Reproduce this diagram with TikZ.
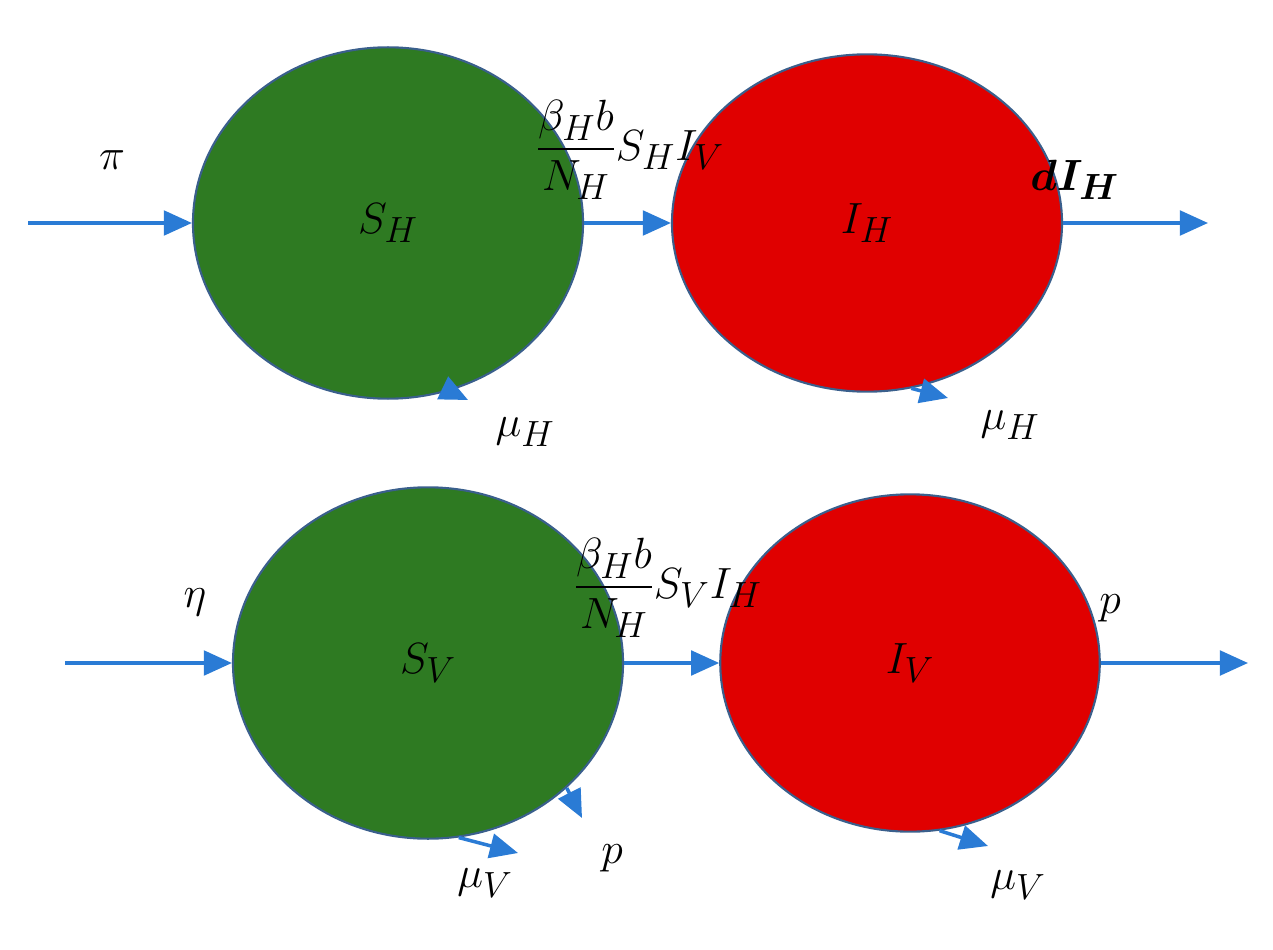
\documentclass[tikz,border=0pt]{standalone}
\usepackage{amsmath}
\usetikzlibrary{arrows.meta,shapes.geometric}
\definecolor{grn}{HTML}{2E7A22}
\definecolor{rd}{HTML}{E00000}
\definecolor{bd}{HTML}{3A5F8C}
\definecolor{ar}{HTML}{2A7BD5}
\tikzset{
  comp/.style={ellipse,draw=bd,line width=1.2pt,inner sep=0pt},
  flow/.style={draw=ar,line width=2pt,-{Triangle[length=16pt,width=14pt]}},
  lab/.style={font=\fontsize{30}{34}\selectfont,inner sep=0pt}
}
\begin{document}
\begin{tikzpicture}[x=0.02cm,y=-0.02cm]
\useasboundingbox (0,0) rectangle (1273,949);
% top row
\node[comp,fill=grn,minimum width=222,minimum height=200] (SH) at (388,223) {};
\node[lab] at (SH) {$S_H$};
\node[comp,fill=rd,minimum width=222,minimum height=192] (IH) at (867,223) {};
\node[lab] at (IH) {$I_H$};
\coordinate (a0) at (28,223);
\coordinate (a1) at (1208,223);
\coordinate (m1) at (468,400);
\coordinate (m2) at (948,398);
\draw[flow] (a0) -- (SH.west);
\draw[flow] (SH.east) -- (IH.west);
\draw[flow] (IH.east) -- (a1);
\draw[flow] (SH.-70) -- (m1);
\draw[flow] (IH.-75) -- (m2);
\node[lab] (pi) at (112,160) {$\pi$};
\node[lab] (f1) at (630,150) {$\dfrac{\beta_H b}{N_H}S_HI_V$};
\node[lab,anchor=west] (d1) at (1030,180) {$\boldsymbol{dI_H}$};
\node[lab] (mu1) at (525,432) {$\mu_H$};
\node[lab] (mu2) at (1010,425) {$\mu_H$};
% bottom row
\node[comp,fill=grn,minimum width=222,minimum height=200] (SV) at (428,663) {};
\node[lab] at (SV) {$S_V$};
\node[comp,fill=rd,minimum width=216,minimum height=192] (IV) at (910,663) {};
\node[lab] at (IV) {$I_V$};
\coordinate (b0) at (65,663);
\coordinate (b1) at (1248,663);
\coordinate (m3) at (518,853);
\coordinate (m4) at (582,818);
\coordinate (m5) at (988,846);
\draw[flow] (b0) -- (SV.west);
\draw[flow] (SV.east) -- (IV.west);
\draw[flow] (IV.east) -- (b1);
\draw[flow] (SV.-80) -- (m3);
\draw[flow] (SV.-42) -- (m4);
\draw[flow] (IV.-80) -- (m5);
\node[lab] (eta) at (195,602) {$\eta$};
\node[lab] (f2) at (668,588) {$\dfrac{\beta_H b}{N_H}S_VI_H$};
\node[lab] (p1) at (1110,608) {$p$};
\node[lab] (mu3) at (485,883) {$\mu_V$};
\node[lab] (p2) at (612,858) {$p$};
\node[lab] (mu4) at (1018,885) {$\mu_V$};
\end{tikzpicture}
\end{document}
